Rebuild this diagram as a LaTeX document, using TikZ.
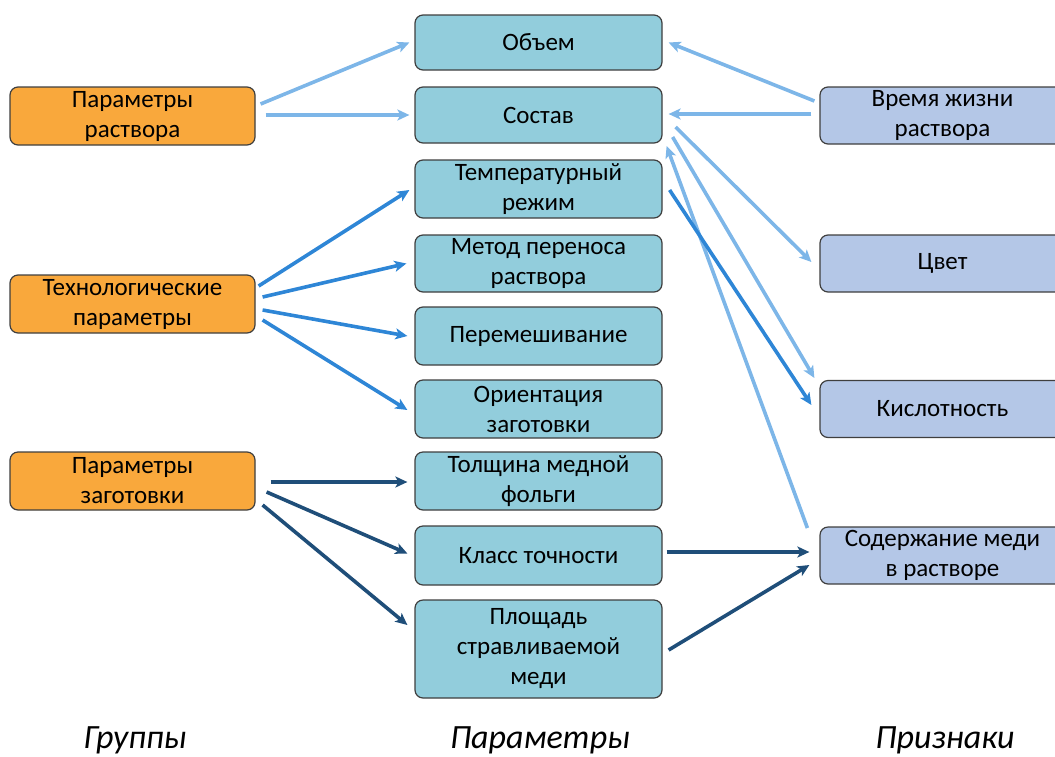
\documentclass[tikz,border=0pt]{standalone}
\usepackage{fontspec}
\setmainfont{Carlito}
\usetikzlibrary{arrows.meta,calc}
\definecolor{orangefill}{HTML}{F9A83C}
\definecolor{midfill}{HTML}{92CDDC}
\definecolor{rightfill}{HTML}{B4C7E7}
\definecolor{boxline}{HTML}{3F3F3F}
\definecolor{arlight}{HTML}{7DB6E8}
\definecolor{armid}{HTML}{2E86D6}
\definecolor{ardark}{HTML}{1F4E79}
\tikzset{
  box/.style={draw=boxline, line width=1.2pt, rounded corners=8pt, align=center,
    font=\fontsize{25}{30}\selectfont, inner sep=0pt},
  grp/.style={box, fill=orangefill, minimum width=245pt, minimum height=58pt},
  par/.style={box, fill=midfill, minimum width=247pt},
  sig/.style={box, fill=rightfill, minimum width=245pt, minimum height=57pt},
  arr/.style={line width=3.6pt, -{Stealth[length=12pt,width=11pt,inset=3pt]}},
  alight/.style={arr, draw=arlight},
  amid/.style={arr, draw=armid},
  adark/.style={arr, draw=ardark},
  captext/.style={font=\fontsize{34}{38}\selectfont\itshape, anchor=base}
}
\begin{document}
\begin{tikzpicture}[x=1pt,y=-1pt]
\clip (0,0) rectangle (1055,756);
% groups
\node[grp] (pr) at (132.5,116) {Параметры\\раствора};
\node[grp] (tp) at (132.5,304) {Технологические\\параметры};
\node[grp] (pz) at (132.5,481) {Параметры\\заготовки};
% parameters
\node[par, minimum height=55pt] (ob) at (538.5,42.5) {Объем};
\node[par, minimum height=56pt] (so) at (538.5,115) {Состав};
\node[par, minimum height=58pt] (tr) at (538.5,189) {Температурный\\режим};
\node[par, minimum height=57pt] (mp) at (538.5,263.5) {Метод переноса\\раствора};
\node[par, minimum height=58pt] (pe) at (538.5,336) {Перемешивание};
\node[par, minimum height=58pt] (or) at (538.5,409) {Ориентация\\заготовки};
\node[par, minimum height=58pt] (tf) at (538.5,481) {Толщина медной\\фольги};
\node[par, minimum height=59pt] (kt) at (538.5,555.5) {Класс точности};
\node[par, minimum height=98pt] (pl) at (538.5,649) {Площадь\\стравливаемой\\меди};
% signs
\node[sig] (vz) at (942.5,115.5) {Время жизни\\раствора};
\node[sig] (cv) at (942.5,263.5) {Цвет};
\node[sig] (ki) at (942.5,409) {Кислотность};
\node[sig] (sm) at (942.5,555.5) {Содержание меди\\в растворе};
% captions
\node[captext] (c1) at (135,748) {Группы};
\node[captext] (c2) at (540,748) {Параметры};
\node[captext] (c3) at (945,748) {Признаки};
% arrows light
\draw[alight] ($(pr.east)+(5,-12)$) -- ($(ob.west)+(-5,0)$);
\draw[alight] ($(pr.east)+(10,-1)$) -- ($(so.west)+(-5,0)$);
\draw[alight] ($(vz.west)+(-5,-14.5)$) -- ($(ob.east)+(6,0)$);
\draw[alight] ($(vz.west)+(-8,-1.5)$) -- ($(so.east)+(6,-1)$);
\draw[alight] ($(so.east)+(13,12)$) -- ($(cv.west)+(-8,-1.5)$);
\draw[alight] ($(so.east)+(10,22)$) -- ($(ki.west)+(-5,-31)$);
\draw[alight] ($(sm.west)+(-12,-27.5)$) -- ($(so.east)+(4,31)$);
% arrows medium
\draw[amid] ($(tr.east)+(7,1)$) -- ($(ki.west)+(-8,-4)$);
\draw[amid] ($(tp.east)+(3,-18)$) -- ($(tr.west)+(-5,1)$);
\draw[amid] ($(tp.east)+(7,-7)$) -- ($(mp.west)+(-8,0)$);
\draw[amid] ($(tp.east)+(7,6)$) -- ($(pe.west)+(-7,0)$);
\draw[amid] ($(tp.east)+(7,16)$) -- ($(or.west)+(-7,1)$);
% arrows dark
\draw[adark] ($(pz.east)+(15,1)$) -- ($(tf.west)+(-7,1)$);
\draw[adark] ($(pz.east)+(11,11)$) -- ($(kt.west)+(-7,-2)$);
\draw[adark] ($(pz.east)+(7,24)$) -- ($(pl.west)+(-7,-24)$);
\draw[adark] ($(kt.east)+(4,-3.5)$) -- ($(sm.west)+(-10,-3.5)$);
\draw[adark] ($(pl.east)+(6,1)$) -- ($(sm.west)+(-10,9.5)$);
\end{tikzpicture}
\end{document}
